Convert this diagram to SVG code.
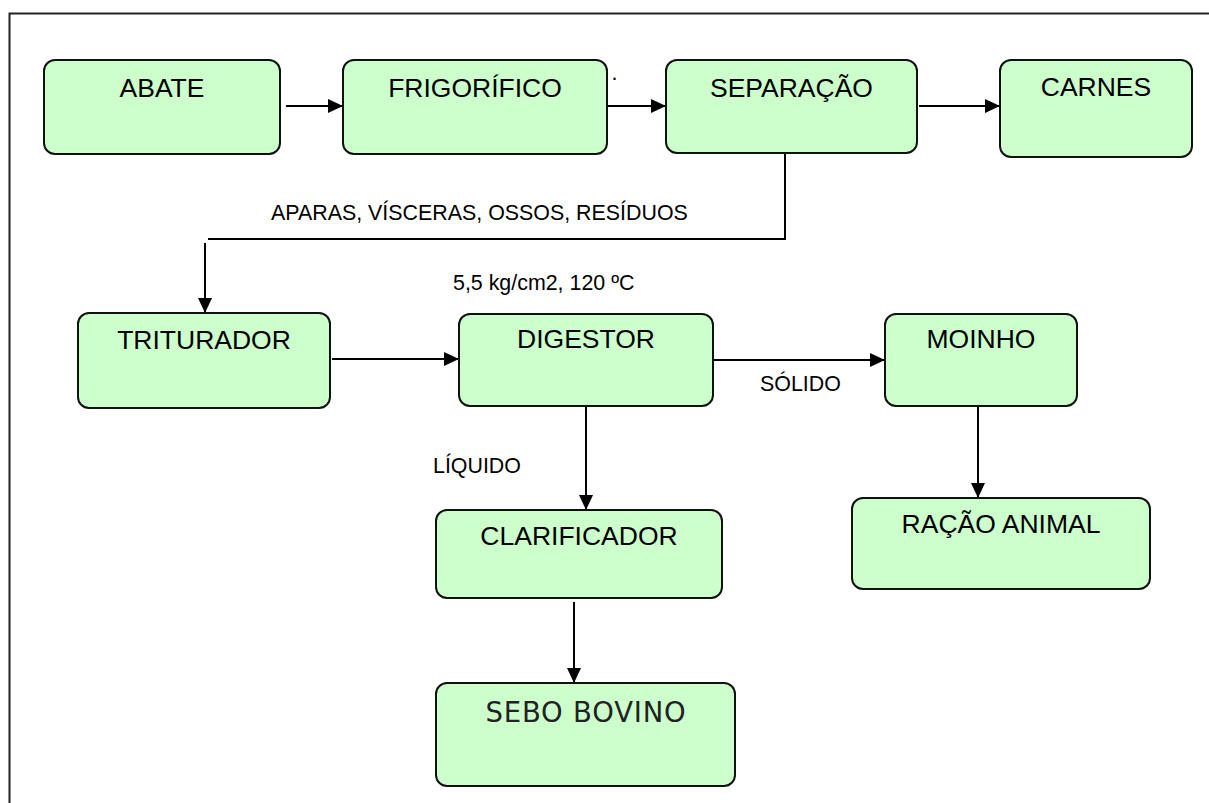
<svg xmlns="http://www.w3.org/2000/svg" width="1209" height="803" viewBox="0 0 1209 803">
<style>
.box{fill:#ccffcc;stroke:#111;stroke-width:2}
.t{font-family:"Liberation Sans",Arial,sans-serif;font-size:26.5px;fill:#000;text-anchor:middle}
.lbl{font-family:"Liberation Sans",Arial,sans-serif;font-size:21.4px;fill:#000}
.ln{stroke:#000;stroke-width:2;fill:none}
.arr{marker-end:url(#ah)}
</style>
<defs>
<marker id="ah" markerUnits="userSpaceOnUse" markerWidth="16" markerHeight="16" viewBox="0 0 16 16" refX="15" refY="8" orient="auto">
<path d="M0,1 L15,8 L0,15 Z" fill="#000"/>
</marker>
</defs>
<rect width="1209" height="803" fill="#fff"/>
<path d="M9.5,803 V13.5 H1209" fill="none" stroke="#222" stroke-width="2"/>
<g id="connectors">
<line class="ln arr" x1="286" y1="106" x2="343" y2="106"/>
<line class="ln arr" x1="608" y1="106" x2="666" y2="106"/>
<line class="ln arr" x1="919" y1="106" x2="1000" y2="106"/>
<polyline class="ln" points="785,154 785,239 208,239"/>
<line class="ln arr" x1="205" y1="243" x2="205" y2="313"/>
<line class="ln arr" x1="332" y1="359" x2="459" y2="359"/>
<line class="ln arr" x1="713" y1="360" x2="885" y2="360"/>
<line class="ln arr" x1="586" y1="406" x2="586" y2="510"/>
<line class="ln arr" x1="978" y1="406" x2="978" y2="498"/>
<line class="ln arr" x1="574" y1="602" x2="574" y2="683"/>
</g>
<g id="labels">
<text class="lbl" x="271" y="220">APARAS, VÍSCERAS, OSSOS, RESÍDUOS</text>
<text class="lbl" x="453" y="290">5,5 kg/cm2, 120 ºC</text>
<text class="lbl" x="760" y="391">SÓLIDO</text>
<text class="lbl" x="433" y="473">LÍQUIDO</text>
<text class="lbl" x="611.5" y="80">.</text>
</g>
<g id="abate"><rect class="box" x="44" y="60" width="236" height="94" rx="11"/><text class="t" x="162" y="97">ABATE</text></g>
<g id="frigorifico"><rect class="box" x="343" y="60" width="264" height="94" rx="11"/><text class="t" x="475" y="97">FRIGORÍFICO</text></g>
<g id="separacao"><rect class="box" x="666" y="60" width="251" height="93" rx="11"/><text class="t" x="791.5" y="97">SEPARAÇÃO</text></g>
<g id="carnes"><rect class="box" x="1000" y="60" width="192" height="97" rx="11"/><text class="t" x="1096" y="96">CARNES</text></g>
<g id="triturador"><rect class="box" x="78" y="313" width="252" height="95" rx="11"/><text class="t" x="204" y="349">TRITURADOR</text></g>
<g id="digestor"><rect class="box" x="459" y="314" width="254" height="92" rx="11"/><text class="t" x="586" y="348">DIGESTOR</text></g>
<g id="moinho"><rect class="box" x="885" y="314" width="192" height="92" rx="11"/><text class="t" x="981" y="348">MOINHO</text></g>
<g id="clarificador"><rect class="box" x="436" y="510" width="286" height="88" rx="11"/><text class="t" x="579" y="545">CLARIFICADOR</text></g>
<g id="racao"><rect class="box" x="852" y="498" width="298" height="91" rx="11"/><text class="t" x="1001" y="533">RAÇÃO ANIMAL</text></g>
<g id="sebo"><rect class="box" x="436" y="683" width="299" height="103" rx="11"/><text x="586" y="722" text-anchor="middle" font-family="DejaVu Sans,sans-serif" font-size="27.5px" letter-spacing="0.8" fill="#222">SEBO BOVINO</text></g>
</svg>
